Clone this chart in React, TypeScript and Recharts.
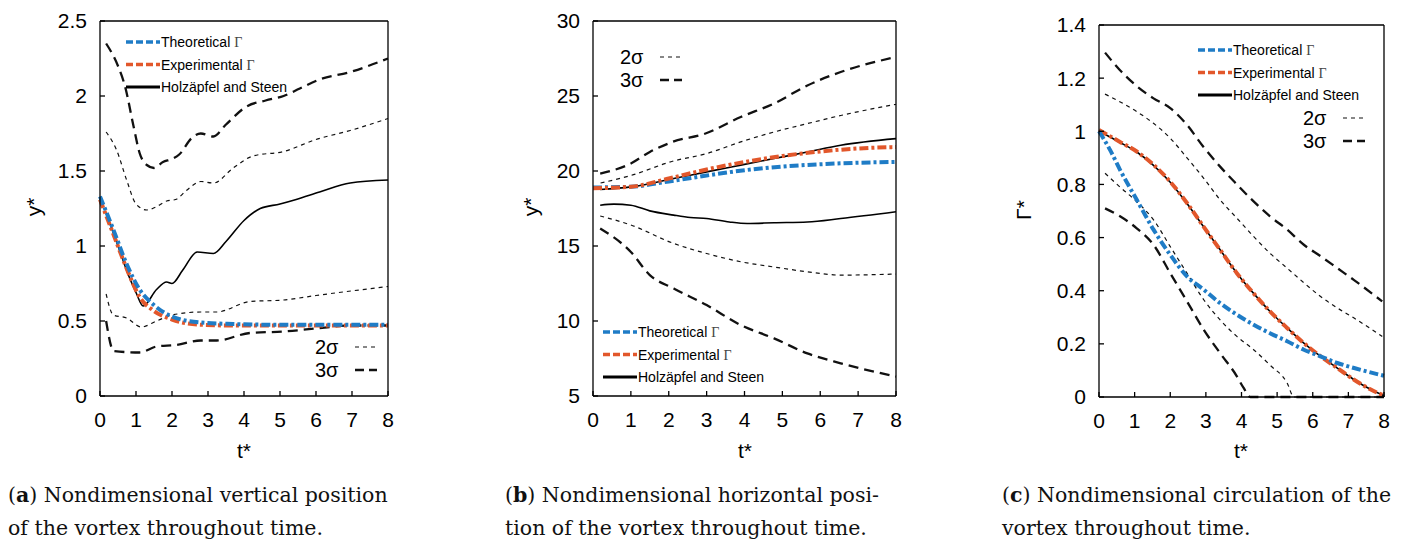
import React from "react";
import { LineChart, Line, XAxis, YAxis } from "recharts";

type Pts = [number, number][];

// t* ticks shared by all three panels
const tTicks = [0, 1, 2, 3, 4, 5, 6, 7, 8];

// (a) vertical position
const aTicks = [0, 0.5, 1, 1.5, 2, 2.5];
const aTheo: Pts = [[0, 1.33], [0.37, 1.11], [0.74, 0.88], [1.1, 0.71], [1.48, 0.61], [2.0, 0.53], [2.8, 0.49], [3.7, 0.48], [5, 0.475], [6.5, 0.475], [8, 0.475]];
const aExp: Pts = [[0, 1.31], [0.37, 1.08], [0.74, 0.85], [1.1, 0.66], [1.48, 0.57], [2.0, 0.51], [2.8, 0.475], [3.7, 0.47], [5, 0.47], [6.5, 0.47], [8, 0.47]];
const aHolz: Pts = [[0.17, 1.22], [0.5, 1.0], [0.8, 0.8], [1.0, 0.69], [1.2, 0.6], [1.57, 0.71], [1.85, 0.76], [2.0, 0.75], [2.3, 0.84], [2.7, 0.96], [3.15, 0.95], [3.5, 1.03], [4.0, 1.17], [4.45, 1.25], [5.0, 1.28], [5.45, 1.31], [6.1, 1.36], [6.95, 1.42], [8, 1.44]];
const a2Up: Pts = [[0.17, 1.76], [0.46, 1.64], [0.74, 1.44], [1.0, 1.28], [1.3, 1.24], [1.55, 1.26], [1.85, 1.3], [2.1, 1.31], [2.4, 1.37], [2.8, 1.43], [3.15, 1.42], [3.7, 1.52], [4.25, 1.6], [5.1, 1.63], [6.0, 1.71], [6.95, 1.77], [8, 1.85]];
const a3Up: Pts = [[0.17, 2.35], [0.5, 2.2], [0.7, 2.06], [0.93, 1.8], [1.1, 1.62], [1.3, 1.54], [1.5, 1.52], [1.75, 1.56], [2.0, 1.58], [2.2, 1.61], [2.55, 1.72], [2.8, 1.75], [3.15, 1.73], [3.5, 1.81], [4.07, 1.93], [4.6, 1.97], [5.1, 2.0], [5.55, 2.05], [6.1, 2.11], [6.95, 2.16], [8, 2.25]];
const a2Lo: Pts = [[0.17, 0.68], [0.37, 0.54], [0.74, 0.52], [1.15, 0.46], [1.57, 0.5], [2.0, 0.54], [2.8, 0.56], [3.24, 0.56], [4.16, 0.63], [5.1, 0.64], [6.0, 0.67], [8, 0.73]];
const a3Lo: Pts = [[0.17, 0.5], [0.38, 0.3], [1.1, 0.29], [1.57, 0.33], [2.1, 0.34], [2.8, 0.37], [3.24, 0.37], [4.16, 0.42], [5.1, 0.43], [6.0, 0.45], [7.0, 0.47], [8, 0.47]];

// (b) horizontal position
const bTicks = [5, 10, 15, 20, 25, 30];
const bTheo: Pts = [[0, 18.9], [1, 18.95], [2, 19.3], [3, 19.7], [4, 20.05], [5, 20.3], [6, 20.45], [7, 20.55], [8, 20.6]];
const bExp: Pts = [[0, 18.85], [1, 18.95], [2, 19.5], [3, 20.1], [4, 20.6], [5, 21.0], [6, 21.3], [7, 21.5], [8, 21.6]];
const bHolzUp: Pts = [[0.19, 18.77], [1, 18.94], [2.13, 19.5], [3, 19.94], [3.9, 20.39], [4.78, 20.83], [5.66, 21.27], [6.54, 21.72], [8, 22.16]];
const bHolzLo: Pts = [[0.19, 17.72], [0.55, 17.79], [1, 17.72], [1.5, 17.34], [2.13, 17.06], [2.57, 16.9], [3, 16.83], [3.6, 16.6], [4.07, 16.5], [4.78, 16.55], [5.66, 16.6], [6.54, 16.83], [8, 17.28]];
const b2Up: Pts = [[0.2, 19.2], [1, 19.7], [2.1, 20.65], [3, 21.16], [3.9, 21.94], [4.78, 22.6], [5.66, 23.16], [6.54, 23.7], [8, 24.45]];
const b3Up: Pts = [[0.19, 19.83], [1, 20.5], [1.5, 21.27], [2.1, 21.94], [2.97, 22.5], [3.9, 23.6], [4.78, 24.5], [5.66, 25.7], [6.54, 26.6], [8, 27.6]];
const b2Lo: Pts = [[0.19, 17.0], [1, 16.4], [2.13, 15.17], [3, 14.5], [3.9, 13.95], [4.78, 13.6], [5.66, 13.28], [6.54, 13.06], [8, 13.13]];
const b3Lo: Pts = [[0.19, 16.17], [1, 14.6], [1.5, 13.06], [2.13, 12.17], [3, 11.06], [3.9, 9.73], [4.78, 8.84], [5.66, 7.84], [6.54, 7.18], [8, 6.29]];

// (c) circulation
const cTicks = [0, 0.2, 0.4, 0.6, 0.8, 1, 1.2, 1.4];
const cTheo: Pts = [[0, 1.0], [0.31, 0.93], [0.59, 0.855], [1.06, 0.742], [1.53, 0.63], [2, 0.535], [2.47, 0.454], [2.94, 0.404], [3.4, 0.353], [3.87, 0.31], [4.34, 0.272], [4.8, 0.24], [5.28, 0.21], [5.75, 0.178], [6.22, 0.153], [6.69, 0.128], [7.16, 0.109], [8, 0.08]];
const cExp: Pts = [[0, 1.005], [0.59, 0.96], [1.06, 0.924], [1.53, 0.874], [2, 0.81], [2.47, 0.73], [2.94, 0.64], [3.4, 0.554], [3.87, 0.466], [4.34, 0.39], [4.8, 0.322], [5.28, 0.26], [5.75, 0.203], [6.22, 0.153], [6.69, 0.109], [7.16, 0.065], [7.63, 0.028], [8, 0.005]];
const cHolz: Pts = [[0, 1.0], [0.59, 0.958], [1.06, 0.922], [1.53, 0.872], [2, 0.808], [2.47, 0.728], [2.94, 0.64], [3.4, 0.554], [3.87, 0.466], [4.34, 0.39], [4.8, 0.322], [5.28, 0.26], [5.75, 0.203], [6.22, 0.153], [6.69, 0.109], [7.16, 0.065], [7.63, 0.028], [8, 0.005]];
const c2Up: Pts = [[0.17, 1.14], [1.06, 1.074], [1.53, 1.03], [2, 0.974], [2.47, 0.9], [2.94, 0.823], [3.4, 0.742], [3.87, 0.673], [4.34, 0.604], [4.8, 0.541], [5.28, 0.485], [5.75, 0.43], [6.22, 0.378], [6.69, 0.335], [7.16, 0.297], [7.95, 0.228]];
const c3Up: Pts = [[0.17, 1.296], [0.59, 1.23], [1.06, 1.17], [1.53, 1.124], [2, 1.087], [2.47, 1.024], [2.94, 0.94], [3.4, 0.867], [3.87, 0.8], [4.34, 0.736], [4.8, 0.68], [5.28, 0.63], [5.75, 0.573], [6.22, 0.53], [6.69, 0.485], [7.16, 0.44], [7.95, 0.36]];
const c2Lo: Pts = [[0.17, 0.842], [0.59, 0.79], [1.06, 0.735], [1.53, 0.667], [2, 0.566], [2.47, 0.466], [2.94, 0.366], [3.4, 0.29], [3.87, 0.228], [4.34, 0.178], [4.8, 0.12], [5.28, 0.053], [5.47, 0], [8, 0]];
const c3Lo: Pts = [[0.17, 0.71], [0.59, 0.68], [1.06, 0.635], [1.53, 0.573], [2, 0.466], [2.47, 0.36], [2.94, 0.253], [3.4, 0.165], [3.87, 0.078], [4.06, 0.034], [4.25, 0], [8, 0]];

const BLUE = "#1f7cc6";
const ORANGE = "#e2572b";
const SANS = "Liberation Sans, Arial, sans-serif";
const SERIF = "Liberation Serif, serif";

const look: Record<string, any> = {
  s2: { stroke: "#111", strokeWidth: 1.2, strokeDasharray: "4 4" },
  s3: { stroke: "#111", strokeWidth: 2.3, strokeDasharray: "10 6" },
  holz: { stroke: "#000", strokeWidth: 1.6 },
  exp: { stroke: ORANGE, strokeWidth: 4, strokeDasharray: "9 3 3 3" },
  theo: { stroke: BLUE, strokeWidth: 4, strokeDasharray: "9 3 3 3" },
};

const rows = (p: Pts) => p.map(([t, v]) => ({ t, v }));

type PanelProps = {
  left: number; width: number; height: number;
  mTop: number; mRight: number; yW: number; xH: number;
  domain: [number, number]; ticks: number[];
  series: [string, Pts][];
};

function Panel(p: PanelProps) {
  const tickStyle = { fontSize: 21, fill: "#000", fontFamily: SANS };
  const ax = { stroke: "#000", strokeWidth: 1.3 };
  return (
    <div style={{ position: "absolute", left: p.left, top: 0 }}>
      <LineChart width={p.width} height={p.height} margin={{ top: p.mTop, right: p.mRight, bottom: 0, left: 0 }}>
        <XAxis xAxisId="b" dataKey="t" type="number" domain={[0, 8]} ticks={tTicks} height={p.xH}
          tickSize={-5} tickMargin={21} tick={tickStyle} axisLine={ax} tickLine={ax} />
        <XAxis xAxisId="t" orientation="top" dataKey="t" type="number" domain={[0, 8]} ticks={tTicks} height={1}
          tickSize={-5} tick={false} axisLine={ax} tickLine={ax} />
        <YAxis yAxisId="l" type="number" domain={p.domain} ticks={p.ticks} width={p.yW}
          tickSize={-5} tickMargin={18} tick={tickStyle} axisLine={ax} tickLine={ax} />
        <YAxis yAxisId="r" orientation="right" type="number" domain={p.domain} ticks={p.ticks} width={1}
          tickSize={-5} tick={false} axisLine={ax} tickLine={ax} />
        {p.series.map(([kind, pts], i) => (
          <Line key={i} xAxisId="b" yAxisId="l" data={rows(pts)} dataKey="v" type="monotone"
            dot={false} isAnimationActive={false} {...look[kind]} />
        ))}
      </LineChart>
    </div>
  );
}

function Gamma() {
  return <tspan fontFamily={SERIF} fill="#444">Γ</tspan>;
}

function SeriesKey({ x, y }: { x: number; y: number }) {
  const items: [any, React.ReactNode][] = [
    [{ stroke: BLUE, strokeWidth: 3.5, strokeDasharray: "7 3" }, <>Theoretical <Gamma /></>],
    [{ stroke: ORANGE, strokeWidth: 3.5, strokeDasharray: "7 3" }, <>Experimental <Gamma /></>],
    [{ stroke: "#000", strokeWidth: 3 }, <>Holzäpfel and Steen</>],
  ];
  return (
    <g>
      {items.map(([st, label], i) => (
        <g key={i}>
          <line x1={x} x2={x + 34} y1={y + i * 22.5} y2={y + i * 22.5} {...st} />
          <text x={x + 35} y={y + i * 22.5} dominantBaseline="central" fontSize={14} fontFamily={SANS}>{label}</text>
        </g>
      ))}
    </g>
  );
}

function SigmaKey({ x, y }: { x: number; y: number }) {
  return (
    <g fontFamily={SANS} fontSize={20}>
      <text x={x} y={y} dominantBaseline="central">2σ</text>
      <line x1={x + 40} x2={x + 62} y1={y} y2={y} {...look.s2} />
      <text x={x} y={y + 23} dominantBaseline="central">3σ</text>
      <line x1={x + 40} x2={x + 62} y1={y + 23} y2={y + 23} stroke="#111" strokeWidth={2.3} strokeDasharray="9 5" />
    </g>
  );
}

function Title({ x, y, text, rot }: { x: number; y: number; text: string; rot?: boolean }) {
  return (
    <text x={x} y={y} textAnchor="middle" dominantBaseline="central" fontSize={21} fontFamily={SANS}
      transform={rot ? `rotate(-90 ${x} ${y})` : undefined}>{text}</text>
  );
}

const capStyle: React.CSSProperties = {
  position: "absolute", top: 479, fontFamily: "DejaVu Serif, serif", fontSize: 20.5, lineHeight: "33px", color: "#111", whiteSpace: "nowrap",
};

export default function App() {
  return (
    <div style={{ position: "absolute", left: 0, top: 0, width: 1410, height: 545, background: "#fff", overflow: "hidden" }}>
      <Panel left={0} width={420} height={470} mTop={20} mRight={31} yW={100} xH={74} domain={[0, 2.5]} ticks={aTicks}
        series={[["s2", a2Up], ["s2", a2Lo], ["s3", a3Up], ["s3", a3Lo], ["holz", aHolz], ["exp", aExp], ["theo", aTheo]]} />
      <Panel left={480} width={440} height={470} mTop={20} mRight={23} yW={113} xH={74} domain={[5, 30]} ticks={bTicks}
        series={[["s2", b2Up], ["s2", b2Lo], ["s3", b3Up], ["s3", b3Lo], ["holz", bHolzUp], ["holz", bHolzLo], ["theo", bTheo], ["exp", bExp]]} />
      <Panel left={960} width={450} height={470} mTop={24} mRight={25} yW={139} xH={73} domain={[0, 1.4]} ticks={cTicks}
        series={[["s2", c2Up], ["s2", c2Lo], ["s3", c3Up], ["s3", c3Lo], ["holz", cHolz], ["exp", cExp], ["theo", cTheo]]} />

      <svg width={1410} height={545} style={{ position: "absolute", left: 0, top: 0, pointerEvents: "none" }}>
        <SeriesKey x={126} y={42} />
        <SigmaKey x={315} y={347} />
        <SeriesKey x={603} y={332} />
        <SigmaKey x={620} y={57} />
        <SeriesKey x={1198} y={50} />
        <SigmaKey x={1303} y={118} />
        <Title x={244} y={450} text="t*" />
        <Title x={745} y={450} text="t*" />
        <Title x={1241} y={450} text="t*" />
        <Title x={33} y={207} text="y*" rot />
        <Title x={530} y={207} text="y*" rot />
        <Title x={1023} y={210} text="Γ*" rot />
      </svg>

      <div style={{ ...capStyle, left: 8 }}>(<b>a</b>) Nondimensional vertical position<br />of the vortex throughout time.</div>
      <div style={{ ...capStyle, left: 505 }}>(<b>b</b>) Nondimensional horizontal posi-<br />tion of the vortex throughout time.</div>
      <div style={{ ...capStyle, left: 1002 }}>(<b>c</b>) Nondimensional circulation of the<br />vortex throughout time.</div>
    </div>
  );
}
